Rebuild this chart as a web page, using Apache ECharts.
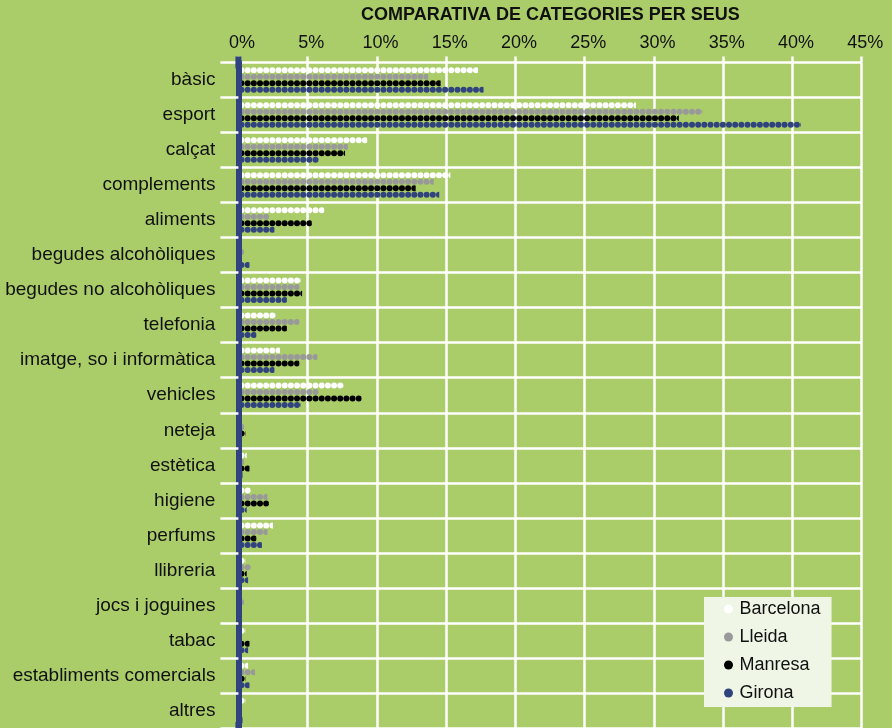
<!DOCTYPE html>
<html>
<head>
<meta charset="utf-8">
<script src="https://cdn.jsdelivr.net/npm/echarts@6/dist/echarts.min.js"></script>
<style>
  html, body { margin: 0; padding: 0; background: #aacd6a; }
  #chart { width: 892px; height: 728px; }
</style>
</head>
<body>
<div id="chart"></div>
<script>
// Categories (top to bottom) and share per seu, in percent
const categories = [
  'bàsic', 'esport', 'calçat', 'complements', 'aliments',
  'begudes alcohòliques', 'begudes no alcohòliques', 'telefonia',
  'imatge, so i informàtica', 'vehicles', 'neteja', 'estètica',
  'higiene', 'perfums', 'llibreria', 'jocs i joguines', 'tabac',
  'establiments comercials', 'altres'
];
const barcelona = [17.3, 28.7, 9.3, 15.3, 6.2, 0, 4.5, 2.7, 3.0, 7.6, 0, 0.6, 0.9, 2.5, 0.5, 0, 0.5, 0.7, 0.5];
const lleida    = [13.7, 33.5, 7.9, 14.1, 2.2, 0.4, 4.4, 4.4, 5.7, 5.8, 0.4, 0.4, 2.1, 2.1, 0.9, 0.4, 0, 1.2, 0.2];
const manresa   = [14.6, 31.8, 7.7, 12.8, 5.3, 0.1, 4.6, 3.5, 4.4, 8.9, 0.5, 0.8, 2.2, 1.3, 0.6, 0, 0.8, 0.5, 0.2];
const girona    = [17.7, 40.6, 5.8, 14.5, 2.6, 0.8, 3.5, 1.3, 2.6, 4.5, 0, 0.3, 0.6, 1.7, 0.7, 0, 0.7, 0.8, 0.3];

const seus = [
  { name: 'Barcelona', data: barcelona, color: '#ffffff' },
  { name: 'Lleida',    data: lleida,    color: '#999999' },
  { name: 'Manresa',   data: manresa,   color: '#000000' },
  { name: 'Girona',    data: girona,    color: '#30437f' }
];

const axisMax = 45;
const font = '"Liberation Sans", Arial, Helvetica, sans-serif';

const chart = echarts.init(document.getElementById('chart'), null, { renderer: 'canvas' });

chart.setOption({
  backgroundColor: '#aacd6a',
  animation: false,
  title: {
    text: 'COMPARATIVA DE CATEGORIES PER SEUS',
    left: 361,
    top: 6,
    padding: 0,
    textStyle: { fontFamily: font, fontSize: 18, fontWeight: 'bold', color: '#111111' }
  },
  legend: {
    orient: 'vertical',
    left: 704,
    top: 597,
    z: 20,
    padding: [3, 11, 5, 20],
    itemGap: 10,
    itemWidth: 12,
    itemHeight: 9,
    icon: 'circle',
    backgroundColor: '#eff6e6',
    textStyle: { fontFamily: font, fontSize: 18, color: '#111111' },
    data: seus.map(s => s.name)
  },
  grid: { left: 238.4, right: 30.3, top: 62.5, bottom: -1.5, containLabel: false },
  xAxis: {
    type: 'value',
    position: 'top',
    min: 0,
    max: axisMax,
    interval: 5,
    axisLine: { show: false },
    axisTick: { show: true, inside: false, length: 6, lineStyle: { color: '#ffffff', width: 2.5 } },
    axisLabel: {
      formatter: '{value}%',
      margin: 10,
      padding: [0, 0, 0, 7],
      fontFamily: font,
      fontSize: 18,
      color: '#111111'
    },
    splitLine: { show: true, lineStyle: { color: '#ffffff', width: 2.5 } }
  },
  yAxis: {
    type: 'category',
    inverse: true,
    data: categories,
    offset: 3,
    axisLine: {
      show: true,
      // square caps so the spine pokes up past the top rule, level with the % ticks
      symbol: ['rect', 'rect'],
      symbolSize: [6, 12],
      lineStyle: { color: '#30437f', width: 6 }
    },
    axisTick: { show: true, length: 18, lineStyle: { color: '#ffffff', width: 2.5 } },
    axisLabel: { margin: 20, fontFamily: font, fontSize: 19, color: '#111111' },
    splitLine: { show: true, lineStyle: { color: '#ffffff', width: 2.5 } },
    z: 5
  },
  series: seus.map(s => ({
    name: s.name,
    type: 'pictorialBar',
    data: s.data,
    symbol: 'circle',
    symbolSize: [6, 6],
    symbolRepeat: true,
    symbolMargin: '0.1!',
    symbolClip: true,
    symbolBoundingData: axisMax,
    symbolPosition: 'start',
    barWidth: 6.5,
    barGap: '0%',
    itemStyle: { color: s.color },
    z: 3
  }))
});
</script>
</body>
</html>
